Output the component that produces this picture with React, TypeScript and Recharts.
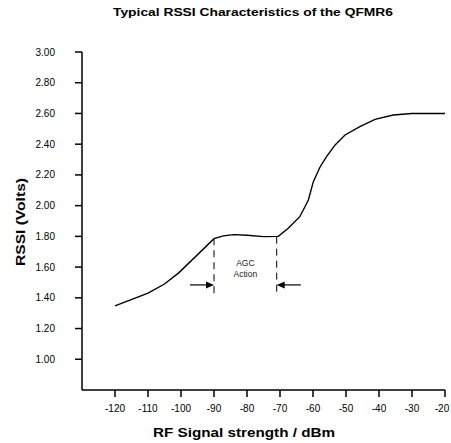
import React from 'react';
import { LineChart, Line, XAxis, YAxis, ReferenceLine, ReferenceDot } from 'recharts';

// signal level (dBm) vs RSSI output (V)
const signalDbm = [-120, -110, -105, -100.6, -90, -87.2, -84, -80, -75, -70.5, -67.5, -64, -61.4, -59.9, -57.9, -55.9, -53.3, -50.3, -45.8, -41.2, -35.7, -30, -20];
const rssiVolts = [1.347, 1.43, 1.49, 1.564, 1.785, 1.803, 1.811, 1.807, 1.798, 1.8, 1.853, 1.928, 2.037, 2.156, 2.25, 2.319, 2.395, 2.46, 2.514, 2.562, 2.59, 2.6, 2.6];

const xTicks = [-120, -110, -100, -90, -80, -70, -60, -50, -40, -30, -20];
const yTicks = [1.0, 1.2, 1.4, 1.6, 1.8, 2.0, 2.2, 2.4, 2.6, 2.8, 3.0];

// AGC action window
const agcStart = -90;
const agcEnd = -71;

const data = signalDbm.map((x, i) => ({ x, rssi: rssiVolts[i] }));

const font = '"Liberation Sans", Arial, sans-serif';

const ArrowHead = ({ cx, cy, dir }: any) => {
  if (cx == null || cy == null) return null;
  const d = dir === 'right'
    ? `M${cx},${cy} L${cx - 8},${cy - 3.5} L${cx - 8},${cy + 3.5} Z`
    : `M${cx},${cy} L${cx + 8},${cy - 3.5} L${cx + 8},${cy + 3.5} Z`;
  return <path d={d} fill="#000" />;
};

const Note = ({ cx, cy, text }: any) => {
  if (cx == null || cy == null) return null;
  return (
    <text x={cx} y={cy} textAnchor="middle" dominantBaseline="middle" fontSize={8.5} fontFamily={font} fill="#222">
      {text}
    </text>
  );
};

const XTick = ({ x, y, payload }: any) => {
  const last = payload.value === xTicks[xTicks.length - 1];
  return (
    <text x={last ? x - 3 : x} y={y} dy="0.71em" textAnchor="middle" fontSize={10} fontFamily={font} fill="#000">
      {payload.value}
    </text>
  );
};

const App = () => {
  const W = 443;
  const H = 435;
  return (
    <div style={{ position: 'relative', width: 451, height: 443, background: '#fff' }}>
      <style>{'body { margin: 0; }'}</style>
      <div style={{ position: 'absolute', left: 8, top: 8, width: W, height: H }}>
        <LineChart width={W} height={H} data={data} margin={{ top: 44, right: 6, bottom: 23, left: 14 }}>
          <XAxis
            dataKey="x"
            type="number"
            domain={[-130, -20]}
            ticks={xTicks}
            interval={0}
            allowDataOverflow
            stroke="#000"
            strokeWidth={1.5}
            tickSize={7}
            tickMargin={8}
            height={30}
            tick={<XTick />}
          />
          <YAxis
            type="number"
            domain={[0.8, 3.0]}
            ticks={yTicks}
            interval={0}
            allowDataOverflow
            width={60}
            stroke="#000"
            strokeWidth={1.5}
            tickSize={7}
            tickMargin={20}
            tickFormatter={(v: number) => v.toFixed(2)}
            tick={{ fill: '#000', fontSize: 10, fontFamily: font }}
          />
          <ReferenceLine segment={[{ x: agcStart, y: 1.43 }, { x: agcStart, y: 1.785 }]} stroke="#000" strokeDasharray="7 5" />
          <ReferenceLine segment={[{ x: agcEnd, y: 1.44 }, { x: agcEnd, y: 1.8 }]} stroke="#000" strokeDasharray="7 5" />
          <ReferenceLine segment={[{ x: -97.3, y: 1.484 }, { x: agcStart - 1, y: 1.484 }]} stroke="#000" strokeWidth={1.2} />
          <ReferenceLine segment={[{ x: agcEnd + 1, y: 1.484 }, { x: -63.7, y: 1.484 }]} stroke="#000" strokeWidth={1.2} />
          <ReferenceDot x={agcStart} y={1.484} r={0} shape={(p: any) => <ArrowHead {...p} dir="right" />} />
          <ReferenceDot x={agcEnd} y={1.484} r={0} shape={(p: any) => <ArrowHead {...p} dir="left" />} />
          <ReferenceDot x={-80.5} y={1.62} r={0} shape={(p: any) => <Note {...p} text="AGC" />} />
          <ReferenceDot x={-80.5} y={1.549} r={0} shape={(p: any) => <Note {...p} text="Action" />} />
          <Line
            dataKey="rssi"
            type="linear"
            stroke="#000"
            strokeWidth={1.4}
            dot={false}
            isAnimationActive={false}
          />
        </LineChart>
      </div>
      <svg width={451} height={443} style={{ position: 'absolute', left: 0, top: 0, pointerEvents: 'none' }}>
        <text x={253} y={16} textAnchor="middle" fontSize={10.5} fontWeight="bold" fontFamily={font} textLength={280} lengthAdjust="spacingAndGlyphs">
          Typical RSSI Characteristics of the QFMR6
        </text>
        <text x={244} y={437} textAnchor="middle" fontSize={12.5} fontWeight="bold" fontFamily={font} textLength={182} lengthAdjust="spacingAndGlyphs">
          RF Signal strength / dBm
        </text>
        <text
          x={0}
          y={0}
          transform="translate(25,222) rotate(-90)"
          textAnchor="middle"
          fontSize={13}
          fontWeight="bold"
          fontFamily={font}
          textLength={88}
          lengthAdjust="spacingAndGlyphs"
        >
          RSSI (Volts)
        </text>
      </svg>
    </div>
  );
};

export default App;
